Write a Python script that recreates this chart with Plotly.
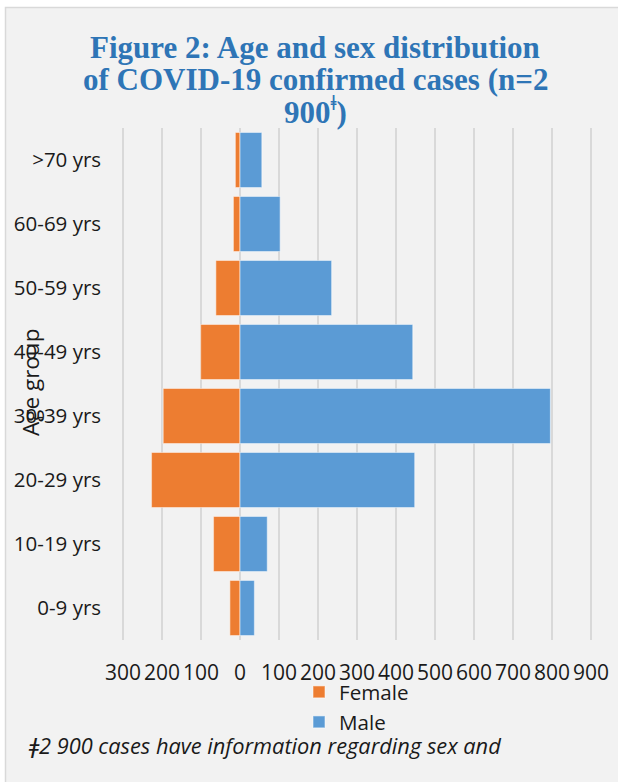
import plotly.graph_objects as go

# Age groups, bottom to top
age_groups = ["0-9 yrs", "10-19 yrs", "20-29 yrs", "30-39 yrs",
              "40-49 yrs", "50-59 yrs", "60-69 yrs", ">70 yrs"]
female_cases = [26, 68, 227, 197, 101, 62, 17, 12]
male_cases = [37, 70, 448, 796, 443, 235, 103, 56]

tick_values = [-300, -200, -100, 0, 100, 200, 300, 400, 500, 600, 700, 800, 900]
tick_labels = [str(abs(v)) for v in tick_values]

title_lines = ["Figure 2: Age and sex distribution",
               "of COVID-19 confirmed cases (n=2",
               "900<sup>ǂ</sup>)"]

W, H = 618, 782
L, R, T, B = 80, 20, 128, 142  # paper area 80..598 x 128..640


def px_x(p):
    return (p - L) / (W - L - R)


def px_y(p):
    return (H - B - p) / (H - T - B)


LABEL_FONT = "Open Sans"
TEXT = "#1a1a1a"
ORANGE = "#ED7D31"
BLUE = "#5B9BD5"
BAR_EDGE = dict(color="rgba(255,255,255,0.45)", width=1.2)

# value axis: 0 sits at x=240 px, 0.39 px per case; a little slack keeps
# the outer gridlines (-300, 900) inside the plot area
GRID_RANGE = [-310, 910]
grid_domain = [px_x(240 + 0.39 * GRID_RANGE[0]), px_x(240 + 0.39 * GRID_RANGE[1])]

fig = go.Figure()
fig.add_trace(go.Bar(
    y=age_groups, x=[-v for v in female_cases], name="Female", orientation="h",
    marker=dict(color=ORANGE, line=BAR_EDGE),
    customdata=female_cases, hovertemplate="%{y}: %{customdata}<extra>Female</extra>",
    legend="legend",
))
fig.add_trace(go.Bar(
    y=age_groups, x=male_cases, name="Male", orientation="h",
    marker=dict(color=BLUE, line=BAR_EDGE),
    hovertemplate="%{y}: %{x}<extra>Male</extra>",
    legend="legend2",
))

footnote = ("<i><span style='font-family:DejaVu Sans'>ǂ</span>"
            "2 900 cases have information regarding sex and</i>")

legend_common = dict(
    xanchor="left", yanchor="middle", bgcolor="rgba(0,0,0,0)", borderwidth=0,
    font=dict(family=LABEL_FONT, size=20.6, color=TEXT),
)

title_annotations = [
    dict(
        text=line, xref="paper", yref="paper",
        x=px_x(315), y=px_y(cy), xanchor="center", yanchor="middle",
        showarrow=False, align="center",
        font=dict(family="Liberation Serif", size=31, color="#2E75B6", weight="bold"),
    )
    for line, cy in zip(title_lines, [47.5, 79.2, 110.8])
]

fig.update_layout(
    width=W, height=H,
    margin=dict(l=L, r=R, t=T, b=B, pad=0, autoexpand=False),
    paper_bgcolor="white",
    plot_bgcolor="rgba(0,0,0,0)",
    barmode="relative",
    bargap=0.14,
    showlegend=True,
    xaxis=dict(
        domain=grid_domain,
        range=GRID_RANGE, tickvals=tick_values, ticktext=tick_labels,
        showgrid=True, gridcolor="#D9D9D9", gridwidth=1.5,
        zeroline=False, showline=False, ticks="",
        tickfont=dict(family=LABEL_FONT, size=21, color=TEXT),
        ticklabelstandoff=18, fixedrange=True, automargin=False,
    ),
    yaxis=dict(
        categoryorder="array", categoryarray=age_groups,
        showgrid=False, zeroline=False, showline=False, ticks="",
        tickfont=dict(family=LABEL_FONT, size=20.5, color=TEXT),
        ticklabelstandoff=17, fixedrange=True, automargin=False,
    ),
    legend=dict(x=px_x(299), y=px_y(692), **legend_common),
    legend2=dict(x=px_x(299), y=px_y(722), **legend_common),
    shapes=[dict(
        type="rect", xref="paper", yref="paper", layer="below",
        x0=px_x(5.5), x1=px_x(640), y0=px_y(800), y1=px_y(7.5),
        fillcolor="#F2F2F2", line=dict(color="#D9D9D9", width=1.5),
    )],
    annotations=title_annotations + [
        dict(
            text="Age group", xref="paper", yref="paper",
            x=px_x(30), y=px_y(383), xanchor="center", yanchor="middle",
            textangle=-90, showarrow=False,
            font=dict(family=LABEL_FONT, size=22.5, color=TEXT),
        ),
        dict(
            text=footnote, xref="paper", yref="paper",
            x=px_x(26), y=px_y(745), xanchor="left", yanchor="middle",
            showarrow=False, align="left",
            font=dict(family=LABEL_FONT, size=21.8, color=TEXT),
        ),
    ],
)

fig.write_html("out.html")
